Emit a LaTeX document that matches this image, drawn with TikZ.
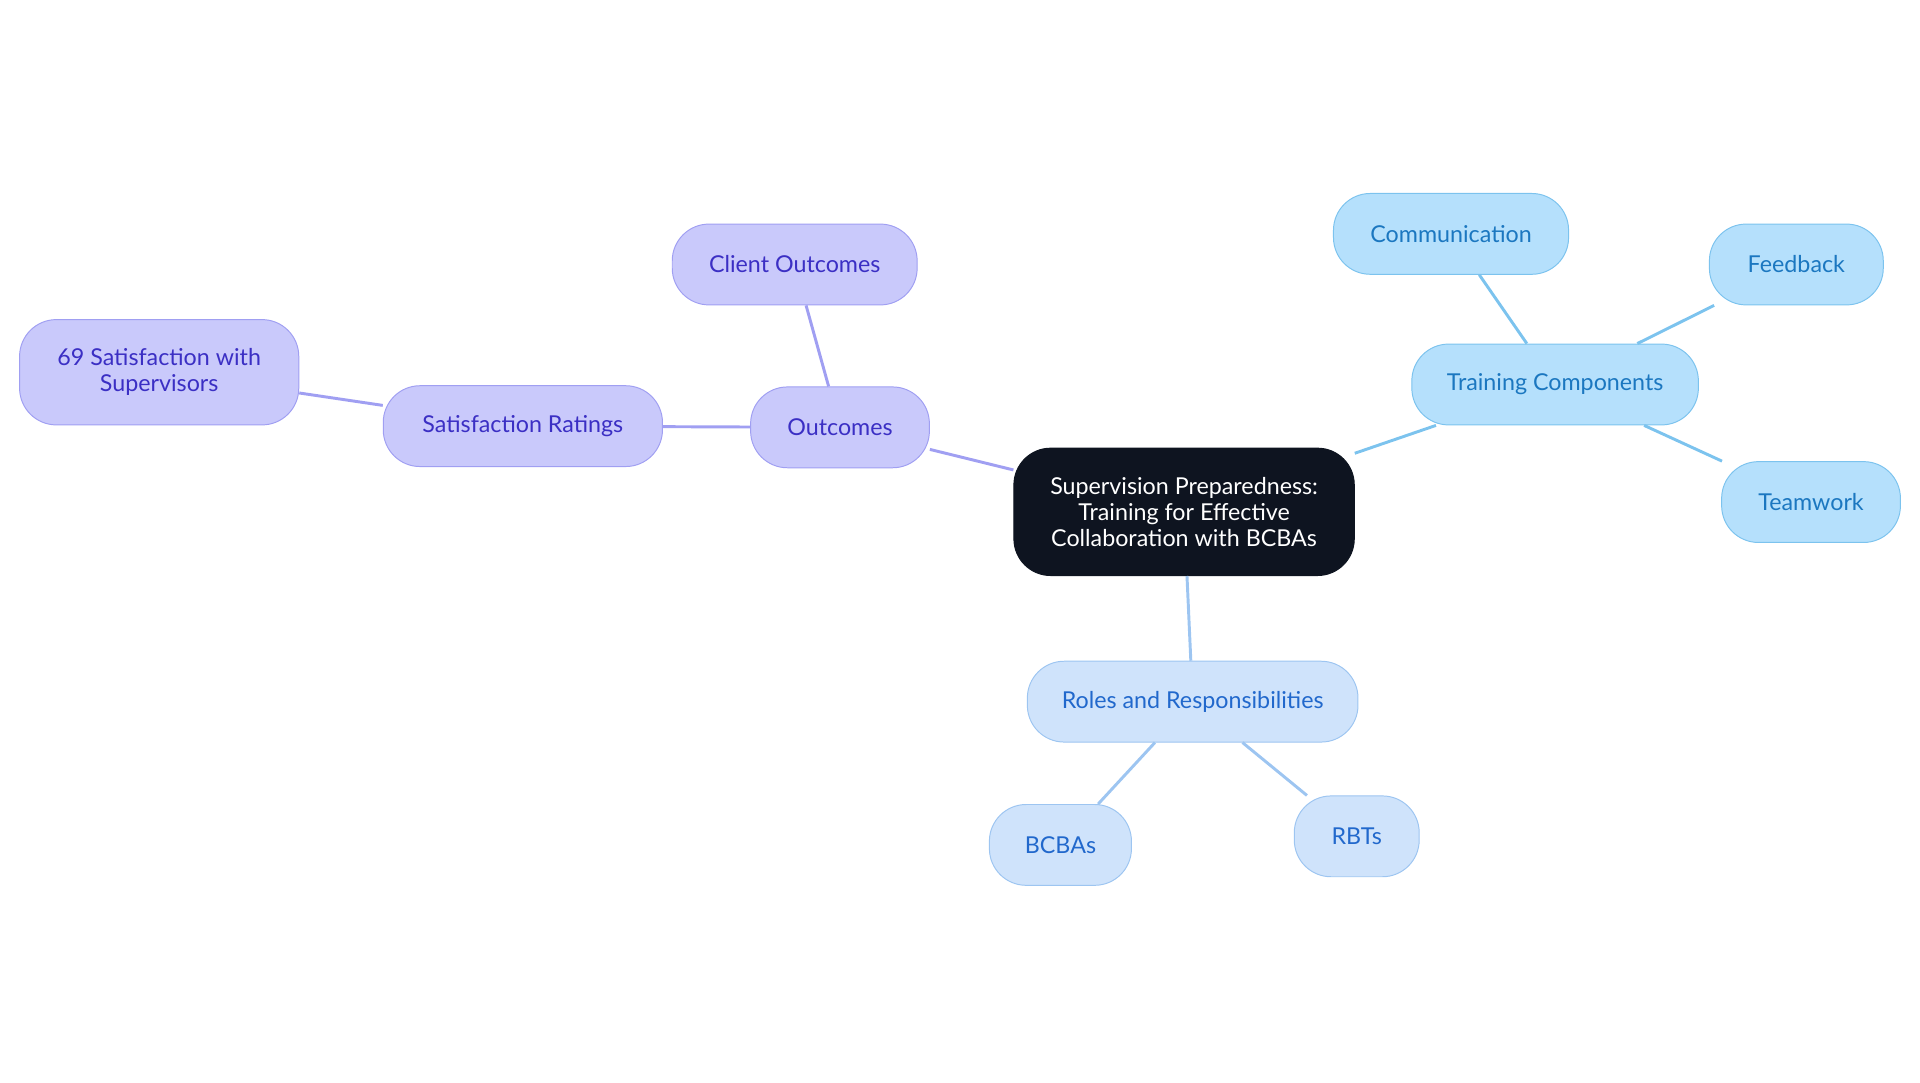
\documentclass[tikz,border=0pt]{standalone}
\usepackage{fontspec}
\setmainfont{Lato}
\usetikzlibrary{positioning}
\definecolor{rootfill}{HTML}{0E1420}
\definecolor{purfill}{HTML}{C9C9FB}
\definecolor{purline}{HTML}{A09FF2}
\definecolor{purtext}{HTML}{3B2FC4}
\definecolor{trfill}{HTML}{B5E0FC}
\definecolor{trline}{HTML}{7CC3EE}
\definecolor{trtext}{HTML}{1B77C0}
\definecolor{rofill}{HTML}{CFE3FB}
\definecolor{roline}{HTML}{9DC5F1}
\definecolor{rotext}{HTML}{2168CC}
\begin{document}
\begin{tikzpicture}[x=0.5pt,y=-0.5pt,
every node/.style={font=\fontsize{9.5}{10.5}\selectfont, align=center, rounded corners=15pt, inner sep=0pt, minimum height=33pt},
rootbox/.style={fill=rootfill, draw=rootfill, text=white, minimum height=52pt, minimum width=139pt},
purbox/.style={fill=purfill, draw=purline, text=purtext},
trbox/.style={fill=trfill, draw=trline, text=trtext},
robox/.style={fill=rofill, draw=roline, text=rotext},
puredge/.style={purline, line width=1.2pt},
tredge/.style={trline, line width=1.2pt},
roedge/.style={roline, line width=1.2pt}]
\useasboundingbox (0,0) rectangle (1568,884);
\node[rootbox] (root) at (967,418) {Supervision Preparedness:\\Training for Effective\\Collaboration with BCBAs};
\node[purbox, minimum width=73pt] (outc) at (686,349) {Outcomes};
\node[purbox, minimum width=100pt] (client) at (649,216) {Client Outcomes};
\node[purbox, minimum width=114pt] (satr) at (427,348) {Satisfaction Ratings};
\node[purbox, minimum width=114pt, minimum height=43pt] (sat69) at (130,304) {69 Satisfaction with\\Supervisors};
\node[trbox, minimum width=117pt] (train) at (1270,314) {Training Components};
\node[trbox, minimum width=96pt] (comm) at (1185,191) {Communication};
\node[trbox, minimum width=71pt] (feed) at (1467,216) {Feedback};
\node[trbox, minimum width=73pt] (team) at (1479,410) {Teamwork};
\node[robox, minimum width=135pt] (roles) at (974,573) {Roles and Responsibilities};
\node[robox, minimum width=58pt] (bcba) at (866,690) {BCBAs};
\node[robox, minimum width=51pt] (rbt) at (1108,683) {RBTs};
% connectors
\draw[puredge] (root) -- (outc);
\draw[puredge] (outc) -- (client);
\draw[puredge] (outc) -- (satr);
\draw[puredge] (satr) -- (sat69);
\draw[tredge] (root) -- (train);
\draw[tredge] (train) -- (comm);
\draw[tredge] (train) -- (feed);
\draw[tredge] (train) -- (team);
\draw[roedge] (root) -- (roles);
\draw[roedge] (roles) -- (bcba);
\draw[roedge] (roles) -- (rbt);
\end{tikzpicture}
\end{document}
